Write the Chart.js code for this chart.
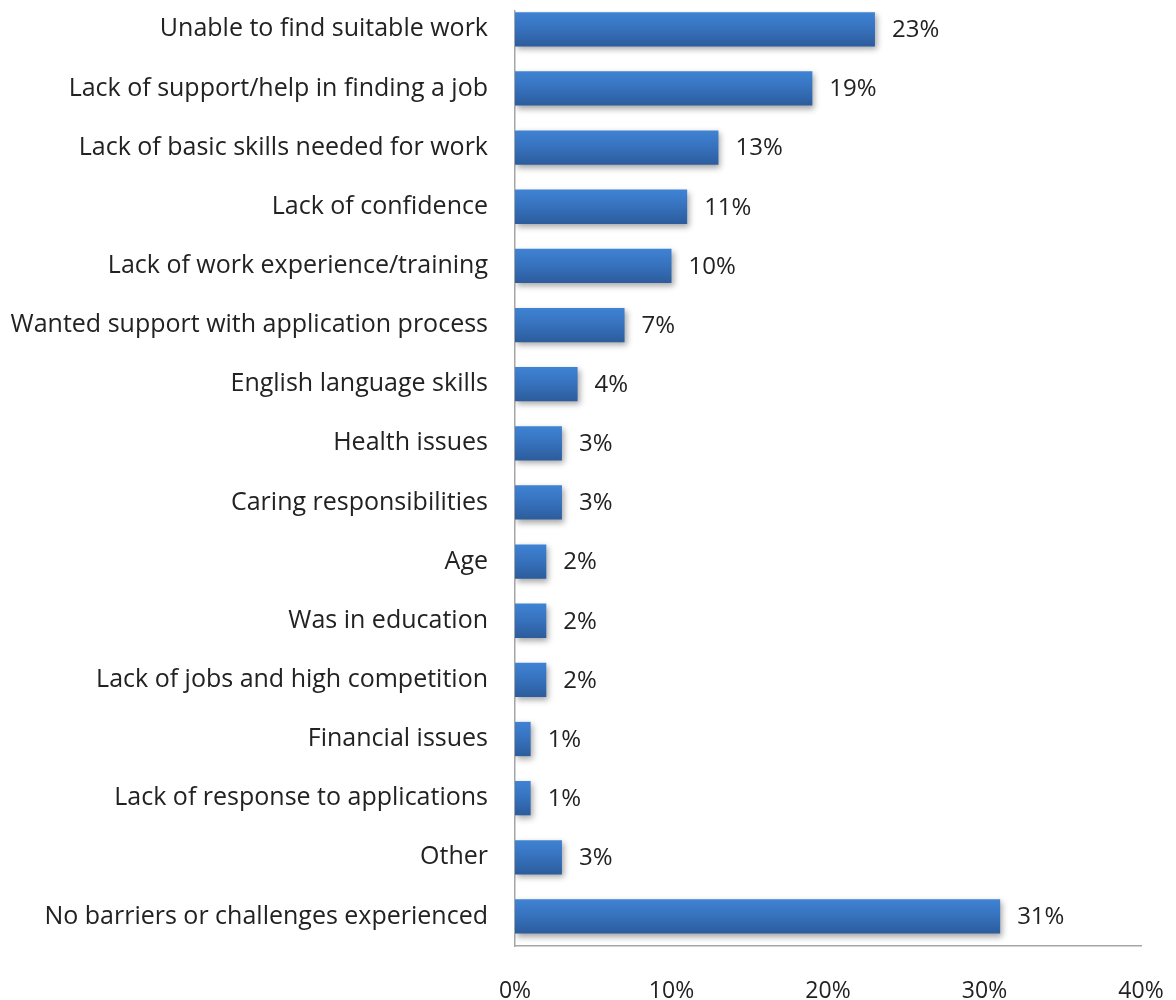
<!DOCTYPE html>
<html>
<head>
<meta charset="utf-8">
<script src="https://cdn.jsdelivr.net/npm/chart.js@4/dist/chart.umd.min.js"></script>
<style>
  html, body { margin: 0; padding: 0; background: #fff; }
  #wrap { width: 1176px; height: 1000px; }
</style>
</head>
<body>
<div id="wrap"><canvas id="barChart"></canvas></div>
<script>
// categories and percentages
const reasons = [
  'Unable to find suitable work',
  'Lack of support/help in finding a job',
  'Lack of basic skills needed for work',
  'Lack of confidence',
  'Lack of work experience/training',
  'Wanted support with application process',
  'English language skills',
  'Health issues',
  'Caring responsibilities',
  'Age',
  'Was in education',
  'Lack of jobs and high competition',
  'Financial issues',
  'Lack of response to applications',
  'Other',
  'No barriers or challenges experienced'
];
const percents = [23, 19, 13, 11, 10, 7, 4, 3, 3, 2, 2, 2, 1, 1, 3, 31];
const xTicks = [0, 10, 20, 30, 40];

const FONT = '"Open Sans", Lato, sans-serif';
const BAR_PCT = 0.58;

// vertical gradient for one bar, worked out from the row scale
function barGradient(context) {
  const chart = context.chart;
  const y = chart.scales.y;
  if (!y || !chart.chartArea) return '#3774c0';
  const center = y.getPixelForValue(context.dataIndex);
  const pitch = Math.abs(y.getPixelForValue(1) - y.getPixelForValue(0));
  const h = pitch * BAR_PCT;
  const g = chart.ctx.createLinearGradient(0, center - h / 2, 0, center + h / 2);
  g.addColorStop(0, '#3f83d4');
  g.addColorStop(0.45, '#3773bf');
  g.addColorStop(1, '#2c5c9c');
  return g;
}

// soft drop shadow under the bars
const barShadow = {
  id: 'barShadow',
  beforeDatasetsDraw(chart) {
    const ctx = chart.ctx;
    ctx.save();
    ctx.shadowColor = 'rgba(0,0,0,0.35)';
    ctx.shadowBlur = 6;
    ctx.shadowOffsetX = 2;
    ctx.shadowOffsetY = 3;
  },
  afterDatasetsDraw(chart) {
    chart.ctx.restore();
  }
};

// value labels to the right of the bars
const valueLabels = {
  id: 'valueLabels',
  afterDatasetsDraw(chart) {
    const ctx = chart.ctx;
    ctx.save();
    ctx.font = '24px ' + FONT;
    ctx.fillStyle = '#222';
    ctx.textBaseline = 'middle';
    ctx.textAlign = 'left';
    chart.getDatasetMeta(0).data.forEach((bar, i) => {
      ctx.fillText(percents[i] + '%', bar.x + 17, bar.y + 1);
    });
    ctx.restore();
  }
};

new Chart(document.getElementById('barChart'), {
  type: 'bar',
  data: {
    datasets: [{
      data: percents.map((v, i) => ({ x: v, y: i })),
      backgroundColor: barGradient,
      barPercentage: BAR_PCT,
      categoryPercentage: 1
    }]
  },
  options: {
    indexAxis: 'y',
    responsive: true,
    maintainAspectRatio: false,
    animation: false,
    layout: { padding: { top: 11, right: 35, left: 0, bottom: 0 } },
    plugins: {
      legend: { display: false },
      tooltip: { enabled: false }
    },
    scales: {
      x: {
        type: 'linear',
        min: 0,
        max: 40,
        afterBuildTicks: scale => { scale.ticks = xTicks.map(v => ({ value: v })); },
        afterFit: scale => {
          scale.height = 54;
          scale.paddingLeft = 0;
          scale.paddingRight = 0;
        },
        grid: { display: false, drawTicks: false },
        border: { display: true, color: '#a6a6a6', width: 1.5 },
        ticks: {
          padding: 32,
          maxRotation: 0,
          color: '#222',
          font: { family: FONT, size: 23 },
          callback: v => v + '%'
        }
      },
      y: {
        type: 'linear',
        reverse: true,
        offset: false,
        min: -0.31,
        max: 15.5,
        afterBuildTicks: scale => { scale.ticks = reasons.map((r, i) => ({ value: i })); },
        afterFit: scale => {
          scale.width = 515;
          scale.paddingTop = 0;
          scale.paddingBottom = 0;
        },
        grid: { display: false, drawTicks: false, offset: false },
        border: { display: true, color: '#a6a6a6', width: 1.5 },
        ticks: {
          autoSkip: false,
          padding: 27,
          color: '#222',
          font: { family: FONT, size: 25 },
          callback: v => reasons[v]
        }
      }
    }
  },
  plugins: [barShadow, valueLabels]
});
</script>
</body>
</html>
